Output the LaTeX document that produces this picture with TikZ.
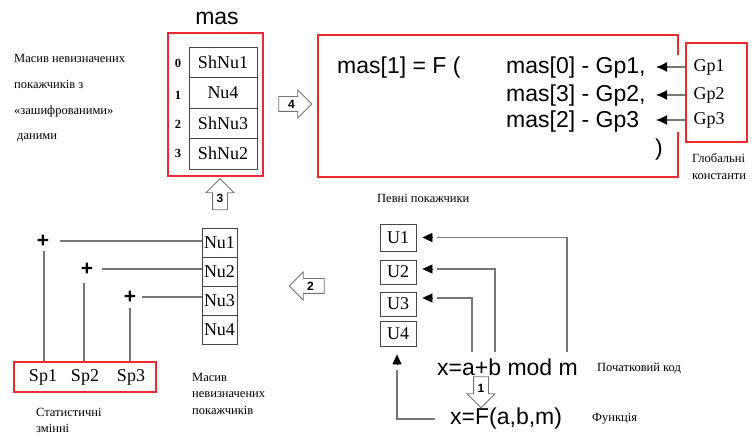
\documentclass[tikz,border=0pt]{standalone}
\usepackage{fontspec}
\setmainfont{Liberation Serif}
\newfontfamily\arialfont{Liberation Sans}
\usetikzlibrary{arrows.meta,shapes.arrows}

\definecolor{boxred}{RGB}{236,42,48}
\definecolor{linegray}{RGB}{120,120,120}
\definecolor{cellgray}{RGB}{70,70,70}

\begin{document}
\begin{tikzpicture}[x=1pt,y=-1pt,
  redframe/.style={draw=boxred,line width=2.3pt,inner sep=0pt},
  serifbig/.style={font=\fontsize{18}{20}\selectfont,inner sep=0pt},
  cell/.style={draw=cellgray,line width=0.8pt,inner sep=0pt,font=\fontsize{18}{20}\selectfont},
  arialtxt/.style={font=\arialfont\fontsize{23}{26}\selectfont,inner sep=0pt},
  note/.style={font=\fontsize{12.5}{14}\selectfont,inner sep=0pt,align=left,anchor=west},
  idx/.style={font=\bfseries\fontsize{12.5}{14}\selectfont,inner sep=0pt},
  plusnode/.style={font=\arialfont\bfseries\fontsize{21}{21}\selectfont,inner sep=0pt},
  gline/.style={draw=linegray,line width=1.3pt},
  gparrow/.style={draw=linegray,line width=1.3pt,-{Latex[length=11pt,width=10pt,color=black]}},
  utip/.style={draw=black,line width=0.6pt,-{Triangle[length=10pt,width=9pt]}},
  blockarrow/.style={draw=black!55,line width=0.8pt,fill=white,single arrow,
    single arrow head extend=6.5pt,single arrow head indent=0pt,inner sep=2.75pt,
    text width=8.5pt,align=center,text height=8.5pt,text depth=0pt,
    font=\arialfont\bfseries\fontsize{12}{12}\selectfont}
]
\useasboundingbox (0,0) rectangle (753,435);

% ---- array "mas" ----
\node[arialtxt] (mastitle) at (217,18) {mas};
\node[redframe,minimum width=95pt,minimum height=143pt] (masbox) at (215.5,104.5) {};
\node[cell,minimum width=68pt,minimum height=30.5pt] (c0) at (223,62.25) {ShNu1};
\node[cell,minimum width=68pt,minimum height=30.5pt] (c1) at (223,92.75) {Nu4};
\node[cell,minimum width=68pt,minimum height=30.5pt] (c2) at (223,123.25) {ShNu3};
\node[cell,minimum width=68pt,minimum height=30.5pt] (c3) at (223,153.75) {ShNu2};
\node[idx] (i0) at (178,63) {0};
\node[idx] (i1) at (178,95) {1};
\node[idx] (i2) at (178,124) {2};
\node[idx] (i3) at (178,153) {3};

\node[note,font=\fontsize{12.5}{25.7}\selectfont] (maslabel) at (14,98.5)
  {Масив невизначених\\покажчиків з\\«зашифрованими»\\\hspace{3pt}даними};

% ---- formula frame ----
\draw[redframe] (678,55) -- (678,35) -- (318,35) -- (318,177) -- (678,177) -- (678,132);
\node[arialtxt,anchor=west] (fcall) at (337,68) {mas[1] = F (};
\node[arialtxt,anchor=west] (m0) at (506,68) {mas[0] - Gp1,};
\node[arialtxt,anchor=west] (m1) at (506,96) {mas[3] - Gp2,};
\node[arialtxt,anchor=west] (m2) at (506,122) {mas[2] - Gp3};
\node[arialtxt] (closep) at (659,150) {)};

% ---- global constants ----
\node[redframe,minimum width=61pt,minimum height=99pt] (gpbox) at (716.5,92.5) {};
\node[serifbig] (gp1) at (709,67) {Gp1};
\node[serifbig] (gp2) at (709,95) {Gp2};
\node[serifbig] (gp3) at (709,120) {Gp3};
\coordinate (tipcol) at (656,0);
\draw[gparrow] (gpbox.west |- gp1) -- (tipcol |- gp1);
\draw[gparrow] (gpbox.west |- gp2) -- (tipcol |- gp2);
\draw[gparrow] (gpbox.west |- gp3) -- (tipcol |- gp3);
\node[note,font=\fontsize{12.5}{17}\selectfont] (gplabel) at (692,166.5) {Глобальні\\константи};

% ---- numbered block arrows ----
\node[blockarrow,minimum height=33pt] (a4) at (291.5,104) {4};
\node[blockarrow,minimum height=31pt,shape border rotate=90] (a3) at (220,198) {3};
\node[blockarrow,minimum height=35pt,shape border rotate=180] (a2) at (310.5,286) {2};
\node[blockarrow,minimum height=31pt,shape border rotate=270] (a1) at (481,388.5) {1};

% ---- array of undefined pointers ----
\node[cell,minimum width=35pt,minimum height=29pt] (nu1) at (219.5,242.5) {Nu1};
\node[cell,minimum width=35pt,minimum height=29pt] (nu2) at (219.5,271.5) {Nu2};
\node[cell,minimum width=35pt,minimum height=29pt] (nu3) at (219.5,300.5) {Nu3};
\node[cell,minimum width=35pt,minimum height=29pt] (nu4) at (219.5,329.5) {Nu4};
\node[note,font=\fontsize{12.5}{16.5}\selectfont] (nulabel) at (192,393.5)
  {Масив\\невизначених\\покажчиків};

% ---- static variables ----
\node[redframe,minimum width=142pt,minimum height=30pt] (spbox) at (85,377) {};
\node[serifbig] (sp1) at (43,377) {Sp1};
\node[serifbig] (sp2) at (85,377) {Sp2};
\node[serifbig] (sp3) at (131,377) {Sp3};
\node[note,font=\fontsize{12.5}{16}\selectfont] (splabel) at (36,420) {Статистичні\\змінні};

\node[plusnode] (p1) at (43,241) {+};
\node[plusnode] (p2) at (87,269) {+};
\node[plusnode] (p3) at (130,297) {+};
\draw[gline] ([xshift=17pt]p1.center) -- (p1 -| nu1.west);
\draw[gline] ([xshift=15pt]p2.center) -- (p2 -| nu2.west);
\draw[gline] ([xshift=12pt]p3.center) -- (p3 -| nu3.west);
\draw[gline] ([xshift=1pt,yshift=-10pt]p1.center) -- ([xshift=1pt]p1.center |- spbox.north);
\draw[gline] ([xshift=-3pt,yshift=-14pt]p2.center) -- ([xshift=-3pt]p2.center |- spbox.north);
\draw[gline] ([yshift=-11pt]p3.center) -- (p3.center |- spbox.north);

% ---- defined pointers ----
\node[note] (ulabel) at (377,198) {Певні покажчики};
\node[cell,minimum width=36pt,minimum height=27pt] (u1) at (398,237.5) {U1};
\node[cell,minimum width=36pt,minimum height=24pt] (u2) at (398,272) {U2};
\node[cell,minimum width=36pt,minimum height=24pt] (u3) at (398,304) {U3};
\node[cell,minimum width=36pt,minimum height=25pt] (u4) at (398,333.5) {U4};

\node[arialtxt,anchor=west] (xab) at (437,367) {x=a+b mod m};
\node[note] (codelabel) at (597,368) {Початковий код};
\node[arialtxt,anchor=west] (xf) at (450,419) {x=F(a,b,m)};
\node[note] (funclabel) at (592,419) {Функція};

\draw[gline] ([xshift=130pt,yshift=6pt]xab.north west) |- ([xshift=21pt]u1.east);
\draw[utip] ([xshift=16pt]u1.east) -- ([xshift=6pt]u1.east);
\draw[gline] ([xshift=58pt,yshift=6pt]xab.north west) |- ([xshift=21pt,yshift=3pt]u2.east);
\draw[utip] ([xshift=16pt,yshift=3pt]u2.east) -- ([xshift=6pt,yshift=3pt]u2.east);
\draw[gline] ([xshift=35pt,yshift=6pt]xab.north west) |- ([xshift=21pt,yshift=6pt]u3.east);
\draw[utip] ([xshift=16pt,yshift=6pt]u3.east) -- ([xshift=6pt,yshift=6pt]u3.east);

\draw[gline] ([xshift=-15pt]xf.west) -| ([xshift=-1pt,yshift=-24pt]u4.south);
\draw[utip] ([xshift=-1pt,yshift=-18pt]u4.south) -- ([xshift=-1pt,yshift=-8pt]u4.south);
\end{tikzpicture}
\end{document}
